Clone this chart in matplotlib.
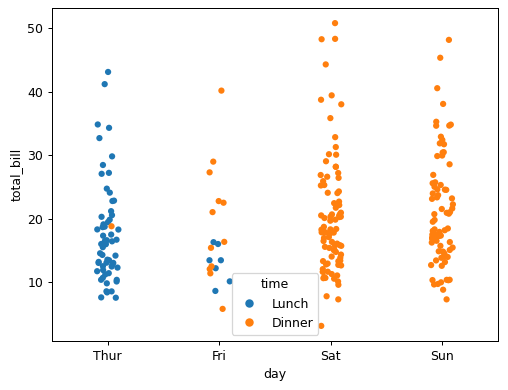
import matplotlib
matplotlib.use("Agg")
import matplotlib.pyplot as plt
import numpy as np
import pandas as pd
import seaborn as sns

# total_bill values per day, split by time (Lunch / Dinner)
thur_lunch = [27.20, 22.76, 17.29, 19.44, 16.66, 10.07, 32.68, 15.98, 34.83, 13.03,
              18.28, 24.71, 21.16, 10.65, 12.43, 24.08, 11.69, 13.42, 14.26, 15.95,
              12.48, 29.80, 8.52, 14.52, 11.38, 22.82, 19.08, 20.27, 11.17, 12.26,
              18.26, 8.51, 10.33, 14.15, 16.00, 13.16, 17.47, 34.30, 41.19, 27.05,
              16.43, 8.35, 18.64, 11.87, 9.78, 7.51, 19.81, 28.44, 15.48, 16.58,
              7.56, 10.34, 43.11, 13.00, 13.51, 18.71, 12.74, 13.00, 16.40, 20.53,
              16.47]
thur_dinner = [18.78]
fri_lunch = [12.16, 13.42, 8.58, 15.98, 13.42, 16.27, 10.09]
fri_dinner = [28.97, 22.49, 5.75, 16.32, 22.75, 40.17, 27.28, 12.03, 21.01, 12.46,
              11.35, 15.38]
sat_dinner = [20.65, 17.92, 20.29, 15.77, 39.42, 19.82, 17.81, 13.37, 12.69, 21.70,
              19.65, 9.55, 18.35, 15.06, 20.69, 17.78, 24.06, 16.31, 16.93, 18.69,
              31.27, 16.04, 38.01, 26.41, 11.24, 48.27, 20.29, 13.81, 11.02, 18.29,
              17.59, 20.08, 16.45, 3.07, 20.23, 15.01, 12.02, 17.07, 26.86, 25.28,
              14.73, 10.51, 17.92, 44.30, 22.42, 20.92, 15.36, 20.49, 25.21, 18.24,
              14.31, 14.00, 7.25, 10.59, 10.63, 50.81, 15.81, 26.59, 38.73, 24.27,
              12.76, 30.06, 25.89, 48.33, 13.27, 28.17, 12.90, 28.15, 11.59, 7.74,
              30.14, 20.45, 13.28, 22.12, 24.01, 15.69, 11.61, 10.77, 15.53, 10.07,
              12.60, 32.83, 35.83, 29.03, 27.18, 22.67, 17.82]
sun_dinner = [16.99, 10.34, 21.01, 23.68, 24.59, 25.29, 8.77, 26.88, 15.04, 14.78,
              10.27, 35.26, 15.42, 18.43, 14.83, 21.58, 10.33, 16.29, 16.97, 17.46,
              13.94, 9.68, 30.40, 18.29, 22.23, 32.40, 28.55, 18.04, 12.54, 10.29,
              34.81, 9.94, 25.56, 19.49, 38.07, 23.95, 25.71, 17.31, 29.93, 14.07,
              13.13, 17.26, 24.55, 19.77, 29.85, 48.17, 25.00, 13.39, 16.49, 21.50,
              12.66, 16.21, 13.81, 17.51, 24.52, 20.76, 31.71, 7.25, 31.85, 16.82,
              32.90, 17.89, 14.48, 9.60, 34.63, 34.65, 23.33, 45.35, 23.17, 40.55,
              20.69, 20.90, 30.46, 18.15, 23.10, 15.69]

days = ["Thur", "Fri", "Sat", "Sun"]
times = ["Lunch", "Dinner"]

groups = [
    ("Thur", "Lunch", thur_lunch), ("Thur", "Dinner", thur_dinner),
    ("Fri", "Lunch", fri_lunch), ("Fri", "Dinner", fri_dinner),
    ("Sat", "Dinner", sat_dinner), ("Sun", "Dinner", sun_dinner),
]
rows = [(d, t, v) for d, t, vals in groups for v in vals]
df = pd.DataFrame(rows, columns=["day", "time", "total_bill"])

np.random.seed(3)
fig = plt.figure(figsize=(508 / 90, 390 / 90), dpi=90)
ax = fig.add_axes([0.1024, 0.1256, 0.8779, 0.8539])
sns.stripplot(data=df, x="day", y="total_bill", hue="time",
              order=days, hue_order=times, ax=ax)
sns.move_legend(ax, "lower center", title="time", markerscale=1.35)
ax.set_yticks([10, 20, 30, 40, 50])

fig.savefig("out.png", dpi=90)
